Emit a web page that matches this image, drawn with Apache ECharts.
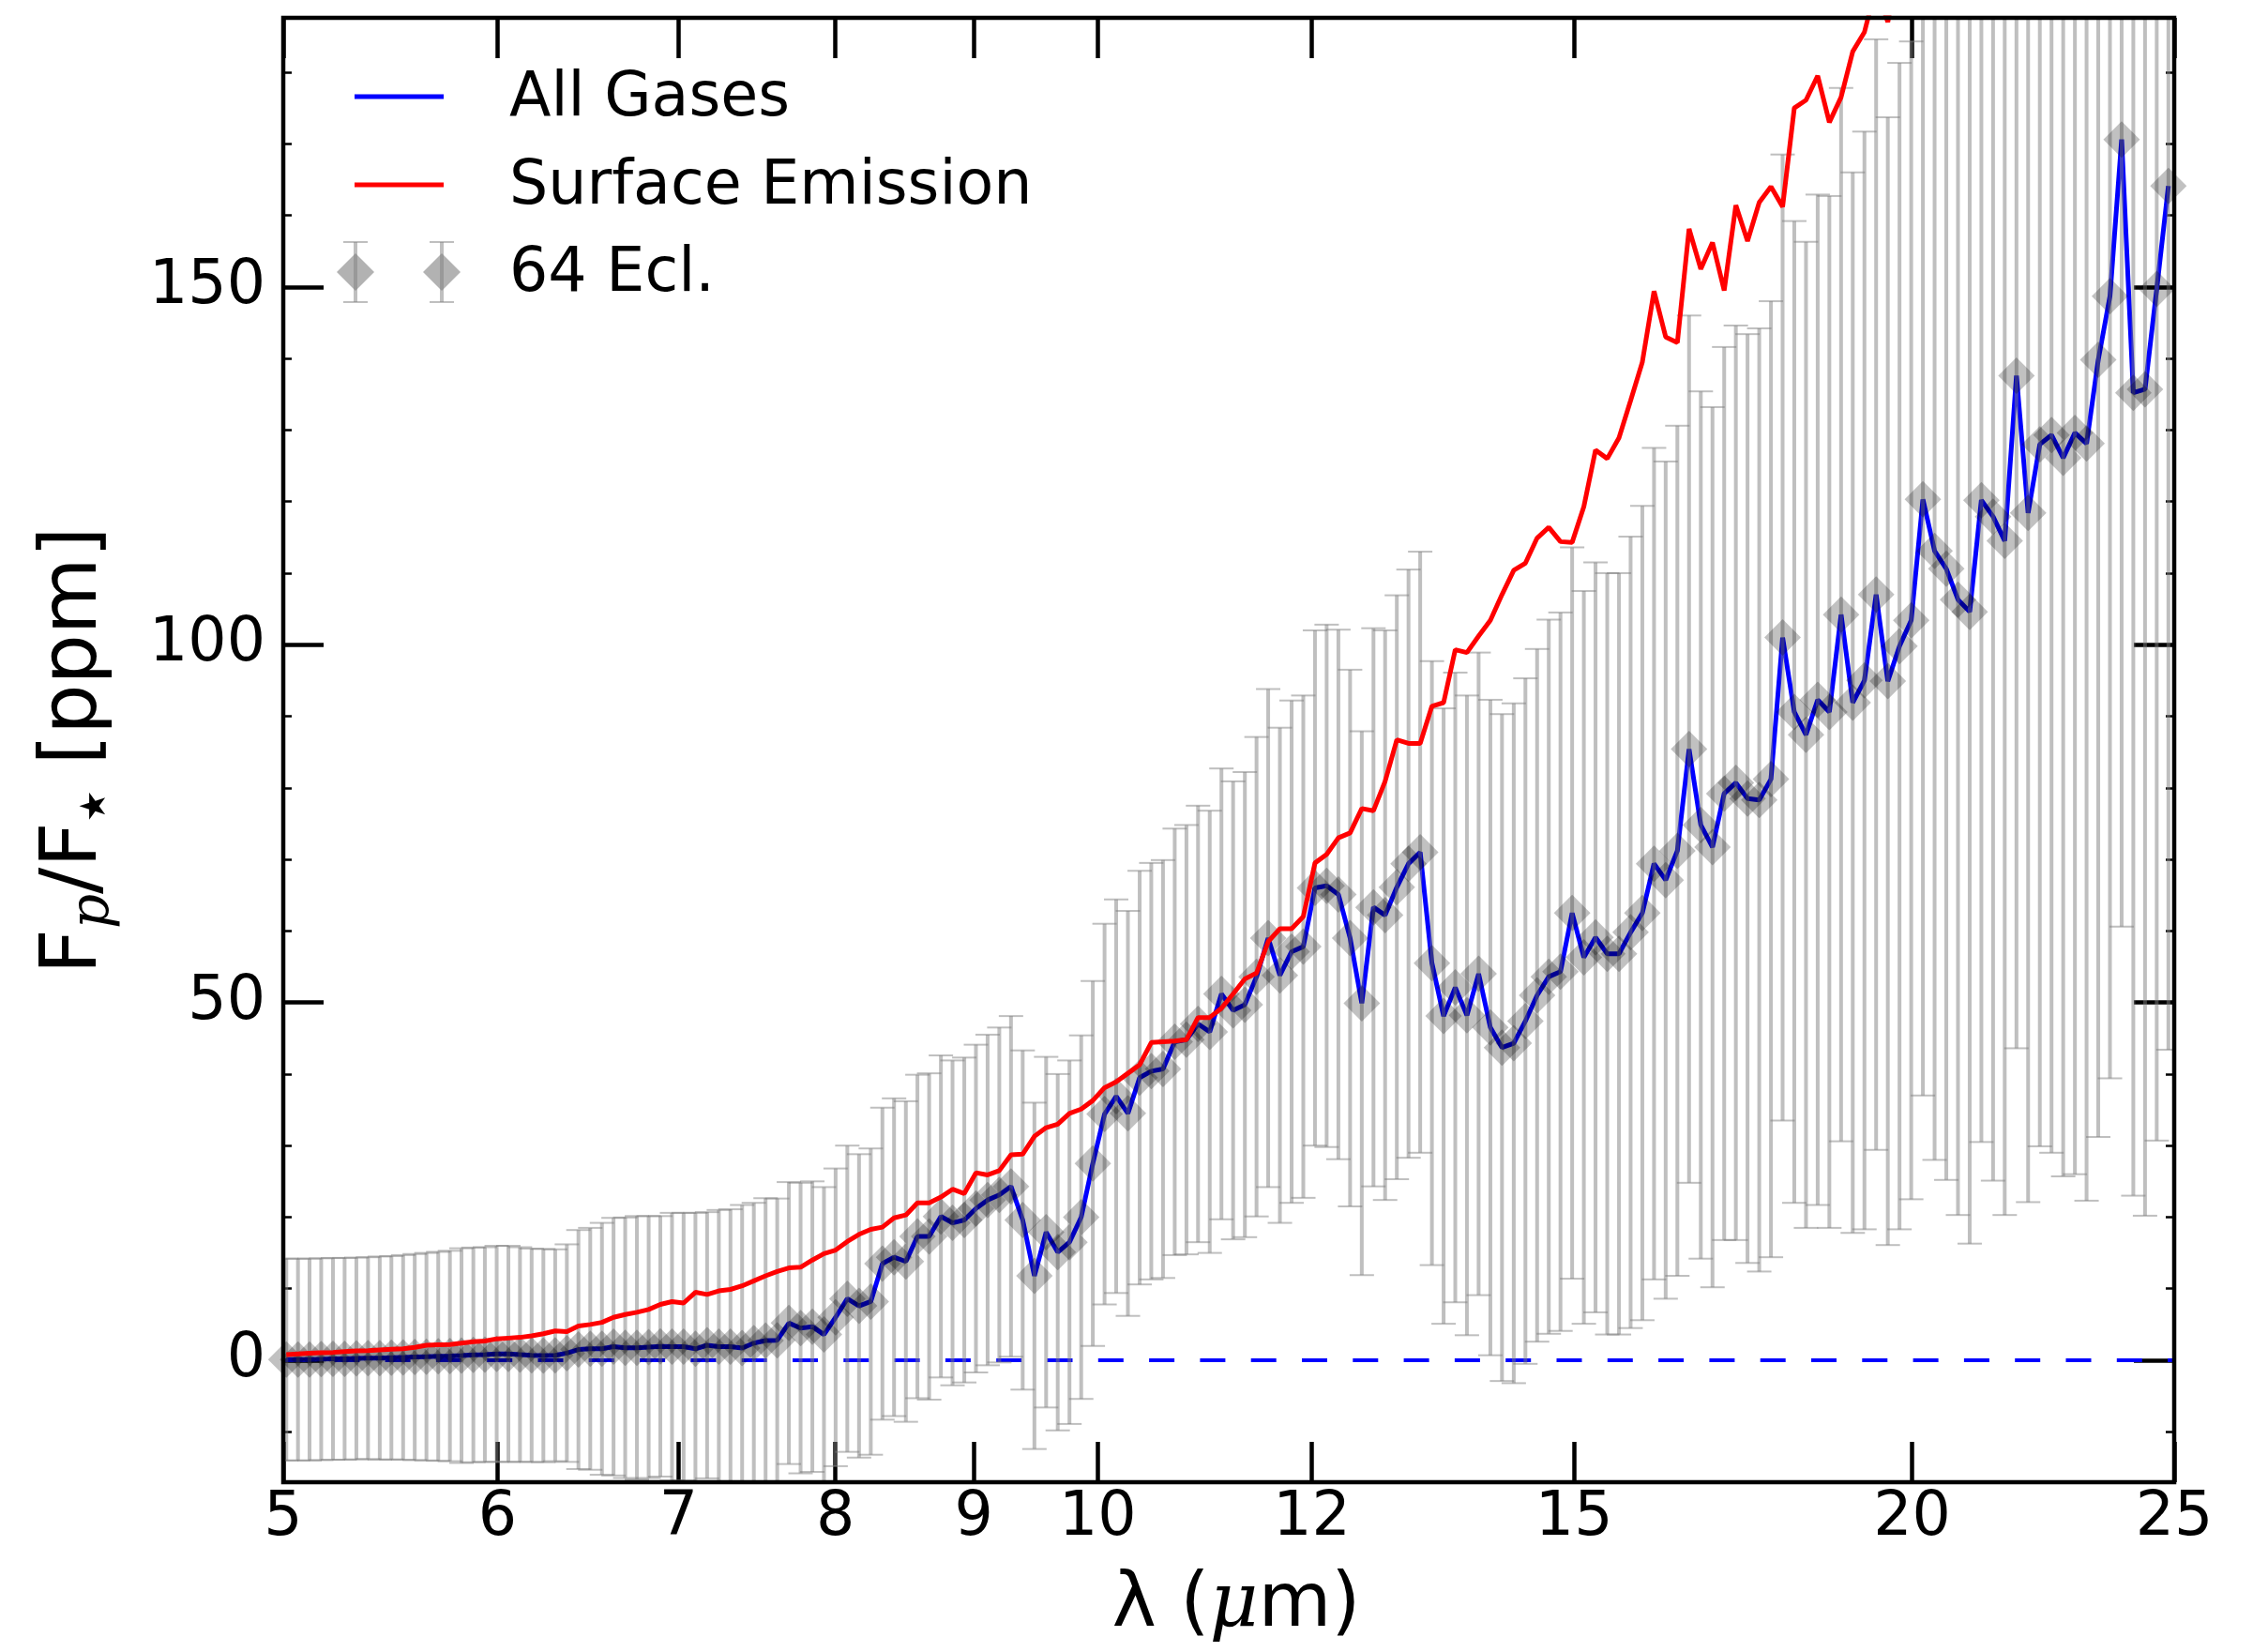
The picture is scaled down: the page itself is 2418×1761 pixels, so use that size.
<!DOCTYPE html>
<html><head><meta charset="utf-8">
<script src="https://cdn.jsdelivr.net/npm/echarts@6/dist/echarts.min.js"></script>
<style>html,body{margin:0;padding:0;background:#fff}#c{width:2418px;height:1761px}</style>
</head><body><div id="c"></div>
<script>
// wavelength grid (micron), R~100
const wavelength = [5.013,5.063,5.113,5.164,5.216,5.268,5.321,5.374,5.428,5.482,
5.537,5.592,5.648,5.705,5.762,5.819,5.878,5.936,5.996,6.056,
6.116,6.177,6.239,6.302,6.365,6.428,6.493,6.558,6.623,6.689,
6.756,6.824,6.892,6.961,7.030,7.101,7.172,7.244,7.316,7.389,
7.463,7.538,7.613,7.689,7.766,7.844,7.922,8.001,8.081,8.162,
8.244,8.326,8.409,8.494,8.578,8.664,8.751,8.838,8.927,9.016,
9.106,9.197,9.289,9.382,9.476,9.571,9.666,9.763,9.861,9.959,
10.059,10.159,10.261,10.364,10.467,10.572,10.678,10.785,10.892,11.001,
11.111,11.222,11.335,11.448,11.562,11.678,11.795,11.913,12.032,12.152,
12.274,12.397,12.521,12.646,12.772,12.900,13.029,13.159,13.291,13.424,
13.558,13.693,13.830,13.969,14.108,14.250,14.392,14.536,14.681,14.828,
14.976,15.126,15.277,15.430,15.585,15.740,15.898,16.057,16.217,16.379,
16.543,16.709,16.876,17.045,17.215,17.387,17.561,17.737,17.914,18.093,
18.274,18.457,18.641,18.828,19.016,19.206,19.398,19.592,19.788,19.986,
20.186,20.388,20.592,20.798,21.006,21.216,21.428,21.642,21.859,22.077,
22.298,22.521,22.746,22.974,23.203,23.435,23.670,23.906,24.145,24.387,
24.631,24.877];
// "All Gases" model = binned data points (ppm)
const allGases = [0.1,0.1,0.1,0.15,0.2,0.2,0.25,0.3,0.3,0.35,
0.4,0.45,0.5,0.55,0.6,0.65,0.75,0.8,0.9,0.9,
0.8,0.7,0.65,0.7,1.0,1.5,1.6,1.6,1.9,1.75,
1.75,1.85,1.95,1.9,1.9,1.6,2.1,1.9,1.9,1.7,
2.4,2.75,2.8,5.2,4.5,4.7,3.6,6.0,8.6,7.6,
8.2,13.5,14.4,13.8,17.3,17.3,20.1,19.2,19.6,21.2,
22.4,23.1,24.3,19.6,11.8,17.9,15.1,16.5,20.0,27.5,
34.4,36.9,34.5,39.5,40.4,40.7,44.5,44.8,47.0,45.9,
51.2,48.9,49.7,53.6,59.0,53.8,57.1,57.8,66.0,66.3,
65.1,59.0,49.9,63.3,62.2,66.1,69.4,71.0,55.5,48.1,
52.1,48.2,54.0,46.5,43.7,44.3,47.4,51.0,53.6,54.3,
62.5,56.3,59.1,56.8,56.8,59.8,62.5,69.4,67.1,71.2,
85.4,74.8,71.7,79.2,80.7,78.5,78.3,81.2,101.0,90.6,
87.4,92.3,90.6,104.2,91.9,95.0,107.0,94.9,99.8,103.4,
120.3,113.1,110.6,106.3,104.6,120.2,117.9,114.5,137.6,118.4,
128.0,129.3,126.1,129.6,128.1,139.8,148.7,170.6,135.2,135.7,
149.7,164.1];
// "Surface Emission" (ppm), leaves the plot at the top near 19.5 micron
const surfaceEmission = [0.8,0.9,1.0,1.05,1.1,1.2,1.3,1.35,1.45,1.55,
1.6,1.8,2.1,2.15,2.2,2.4,2.6,2.7,3.0,3.1,
3.2,3.4,3.7,4.1,4.0,4.8,5.0,5.3,6.0,6.4,
6.7,7.1,7.8,8.2,8.0,9.5,9.2,9.7,9.9,10.4,
11.1,11.8,12.4,12.9,13.0,14.0,14.9,15.4,16.6,17.6,
18.3,18.6,19.9,20.3,22.0,22.0,22.8,23.9,23.3,26.2,
25.9,26.5,28.7,28.8,31.3,32.5,33.0,34.5,35.1,36.3,
38.1,38.9,40.1,41.3,44.4,44.5,44.6,44.8,47.9,47.9,
49.2,51.2,53.3,54.1,58.5,60.3,60.3,62.0,69.5,70.7,
73.0,73.7,77.1,76.8,80.9,86.7,86.2,86.2,91.4,91.9,
99.3,98.9,101.2,103.4,107.0,110.4,111.4,114.9,116.4,114.4,
114.3,119.3,127.2,126.0,128.9,134.1,139.5,149.4,143.0,142.2,
158.1,152.5,156.2,149.5,161.4,156.4,161.8,164.0,161.2,175.0,
176.1,179.5,173.0,176.5,182.9,185.6,192.0,187.0,196.0];
// 1-sigma errors for 64 eclipses (ppm)
const errSigma = [14.1,14.1,14.1,14.1,14.1,14.1,14.1,14.1,14.2,14.2,
14.3,14.4,14.5,14.6,14.7,15.0,15.0,15.0,15.1,15.1,
15.0,14.9,14.9,14.8,15.2,16.7,16.9,17.6,18.0,18.2,
18.4,18.3,18.2,18.7,18.7,19.0,18.6,19.1,19.2,20.0,
19.6,19.9,19.8,19.7,20.3,20.3,20.6,20.8,21.4,21.2,
21.4,21.8,22.2,22.4,22.6,22.8,22.5,22.7,22.7,22.9,
23.1,23.4,23.8,23.7,24.2,24.5,24.9,25.4,25.4,25.5,
26.6,27.5,28.3,28.9,29.1,29.2,29.8,30.0,30.5,30.9,
31.5,32.0,32.5,33.5,34.8,34.6,35.1,35.1,36.0,36.5,
37.0,37.5,38.0,39.0,39.8,40.8,41.1,42.0,42.2,43.0,
44.0,44.7,44.9,45.8,46.6,47.5,47.9,48.4,49.9,50.2,
51.1,51.2,52.4,53.2,53.2,55.3,56.9,58.1,58.5,59.4,
60.6,60.6,61.5,62.4,63.9,64.9,65.9,66.8,67.5,68.6,
68.9,70.6,72.1,73.6,74.1,76.7,77.6,78.8,81.5,80.9,
83.3,85.1,85.4,86.0,88.3,89.7,92.8,94.2,94.0,96.3,
98.1,100.3,100.4,103.6,105.8,108.6,109.3,110.0,112.2,115.5,
119.0,120.7];
const xTickValues = [5, 6, 7, 8, 9, 10, 12, 15, 20, 25];
const yMajorTicks = [0, 50, 100, 150];
const yMinorTicks = [-10, 10, 20, 30, 40, 60, 70, 80, 90, 110, 120, 130, 140, 160, 170, 180];
const xRange = [5, 25];
const yRange = [-17.04, 187.6];
const zeroLevel = 0;

const chart = echarts.init(document.getElementById('c'), null, {renderer: 'canvas'});
const LX = v => Math.log(v);
const GRAY = 'rgba(128,128,128,0.5)';
const DIAMOND = 'rgba(0,0,0,0.3)';
const FONT = 'DejaVu Sans';
const FS = 65;

const blueData = wavelength.map((w, i) => [LX(w), allGases[i]]);
const redData = surfaceEmission.map((v, i) => [LX(wavelength[i]), v]);
const errData = wavelength.map((w, i) => [LX(w), allGases[i], errSigma[i]]);
const zeroData = xRange.map(w => [LX(w), zeroLevel]);

// text measuring helper for composed (sub-scripted) titles
const mctx = document.createElement('canvas').getContext('2d');
function composed(segs, cx, cy, rotation) {
  const widths = segs.map(s => { mctx.font = s.font; return mctx.measureText(s.t).width; });
  const total = widths.reduce((a, b) => a + b, 0);
  let x = -total / 2;
  const children = segs.map((s, k) => {
    const el = {type: 'text', x: x, y: s.dy || 0,
      style: {text: s.t, font: s.font, fill: '#000', align: 'left', verticalAlign: 'middle'}};
    x += widths[k];
    return el;
  });
  return {type: 'group', x: cx, y: cy, rotation: rotation || 0, children: children};
}

function legendErr(cx, cy) {
  return [
    {type: 'polygon', shape: {points: [[cx, cy - 20], [cx + 20, cy], [cx, cy + 20], [cx - 20, cy]]}, style: {fill: DIAMOND}},
    {type: 'line', shape: {x1: cx, y1: cy - 32, x2: cx, y2: cy + 32}, style: {stroke: GRAY, lineWidth: 4}},
    {type: 'line', shape: {x1: cx - 13, y1: cy - 32, x2: cx + 13, y2: cy - 32}, style: {stroke: GRAY, lineWidth: 2}},
    {type: 'line', shape: {x1: cx - 13, y1: cy + 32, x2: cx + 13, y2: cy + 32}, style: {stroke: GRAY, lineWidth: 2}}
  ];
}

const xAxisBase = {
  type: 'value', min: LX(xRange[0]), max: LX(xRange[1]),
  axisLine: {show: false, onZero: false}, splitLine: {show: false},
  axisTick: {show: true, inside: true, length: 43, lineStyle: {color: '#000', width: 4.5},
             customValues: xTickValues.map(LX)}
};
const yAxisBase = {
  type: 'value', min: yRange[0], max: yRange[1],
  axisLine: {show: false, onZero: false}, splitLine: {show: false}
};

const option = {
  animation: false,
  backgroundColor: '#fff',
  grid: {left: 302, top: 19, width: 2016, height: 1561, show: true, borderColor: '#000',
         borderWidth: 4.5, backgroundColor: 'transparent', z: 10, outerBoundsMode: 'none', containLabel: false},
  xAxis: [
    Object.assign({}, xAxisBase, {position: 'bottom',
      axisLabel: {show: true, customValues: xTickValues.map(LX),
        formatter: v => String(Math.round(Math.exp(v))),
        fontSize: FS, fontFamily: FONT, color: '#000', margin: 7}}),
    Object.assign({}, xAxisBase, {position: 'top', axisLabel: {show: false}})
  ],
  yAxis: [
    Object.assign({}, yAxisBase, {position: 'left',
      axisTick: {show: true, inside: true, length: 43, lineStyle: {color: '#000', width: 4.5}, customValues: yMajorTicks},
      axisLabel: {show: true, customValues: yMajorTicks, fontSize: FS, fontFamily: FONT, color: '#000', margin: 19}}),
    Object.assign({}, yAxisBase, {position: 'left',
      axisTick: {show: true, inside: true, length: 9, lineStyle: {color: '#000', width: 2.5}, customValues: yMinorTicks},
      axisLabel: {show: false}}),
    Object.assign({}, yAxisBase, {position: 'right',
      axisTick: {show: true, inside: true, length: 43, lineStyle: {color: '#000', width: 4.5}, customValues: yMajorTicks},
      axisLabel: {show: false}}),
    Object.assign({}, yAxisBase, {position: 'right',
      axisTick: {show: true, inside: true, length: 9, lineStyle: {color: '#000', width: 2.5}, customValues: yMinorTicks},
      axisLabel: {show: false}})
  ],
  series: [
    {name: 'zero', type: 'line', data: zeroData, symbol: 'none', z: 1, silent: true,
     lineStyle: {color: '#0000ff', width: 4, type: [27, 27.3]}},
    {name: 'All Gases', type: 'line', data: blueData, symbol: 'none', z: 2,
     lineStyle: {color: '#0000ff', width: 5}},
    {name: '64 Ecl. errors', type: 'custom', z: 3, clip: true, data: errData,
     renderItem: function (params, api) {
       const x = api.value(0), v = api.value(1), s = api.value(2);
       const hi = v + s, lo = v - s;
       const pTop = api.coord([x, Math.min(hi, yRange[1])]);
       const pBot = api.coord([x, Math.max(lo, yRange[0])]);
       const cw = 13;
       const ch = [{type: 'line', shape: {x1: pTop[0], y1: pTop[1], x2: pBot[0], y2: pBot[1]},
                    style: {stroke: GRAY, lineWidth: 4}}];
       if (hi <= yRange[1]) ch.push({type: 'line', shape: {x1: pTop[0] - cw, y1: pTop[1], x2: pTop[0] + cw, y2: pTop[1]},
                    style: {stroke: GRAY, lineWidth: 2}});
       if (lo >= yRange[0]) ch.push({type: 'line', shape: {x1: pBot[0] - cw, y1: pBot[1], x2: pBot[0] + cw, y2: pBot[1]},
                    style: {stroke: GRAY, lineWidth: 2}});
       return {type: 'group', children: ch};
     }},
    {name: '64 Ecl.', type: 'scatter', data: blueData, symbol: 'diamond', symbolSize: [39, 39], z: 3,
     itemStyle: {color: DIAMOND}},
    {name: 'Surface Emission', type: 'line', data: redData, symbol: 'none', z: 4,
     lineStyle: {color: '#ff0000', width: 5}}
  ],
  graphic: [
    {type: 'line', shape: {x1: 378, y1: 103, x2: 473, y2: 103}, style: {stroke: '#0000ff', lineWidth: 5}},
    {type: 'line', shape: {x1: 378, y1: 197, x2: 473, y2: 197}, style: {stroke: '#ff0000', lineWidth: 5}},
    ...legendErr(379, 290), ...legendErr(471, 290),
    {type: 'text', x: 543, y: 106, style: {text: 'All Gases', font: FS + 'px "DejaVu Sans"', fill: '#000', verticalAlign: 'middle'}},
    {type: 'text', x: 543, y: 200, style: {text: 'Surface Emission', font: FS + 'px "DejaVu Sans"', fill: '#000', verticalAlign: 'middle'}},
    {type: 'text', x: 543, y: 293, style: {text: '64 Ecl.', font: FS + 'px "DejaVu Sans"', fill: '#000', verticalAlign: 'middle'}},
    composed([
      {t: 'F', font: '84px "DejaVu Sans"'},
      {t: 'p', font: 'italic 58px "DejaVu Serif"', dy: 20},
      {t: '/F', font: '84px "DejaVu Sans"'},
      {t: '★', font: '38px "DejaVu Sans"', dy: 22},
      {t: ' [ppm]', font: '84px "DejaVu Sans"'}
    ], 80, 800, Math.PI / 2),
    composed([
      {t: 'λ', font: '80px "DejaVu Sans"'},
      {t: ' (', font: '80px "DejaVu Sans"'},
      {t: 'μ', font: 'italic 80px "DejaVu Serif"'},
      {t: 'm)', font: '80px "DejaVu Sans"'}
    ], 1318, 1712, 0)
  ]
};
chart.setOption(option);
</script>
</body></html>
